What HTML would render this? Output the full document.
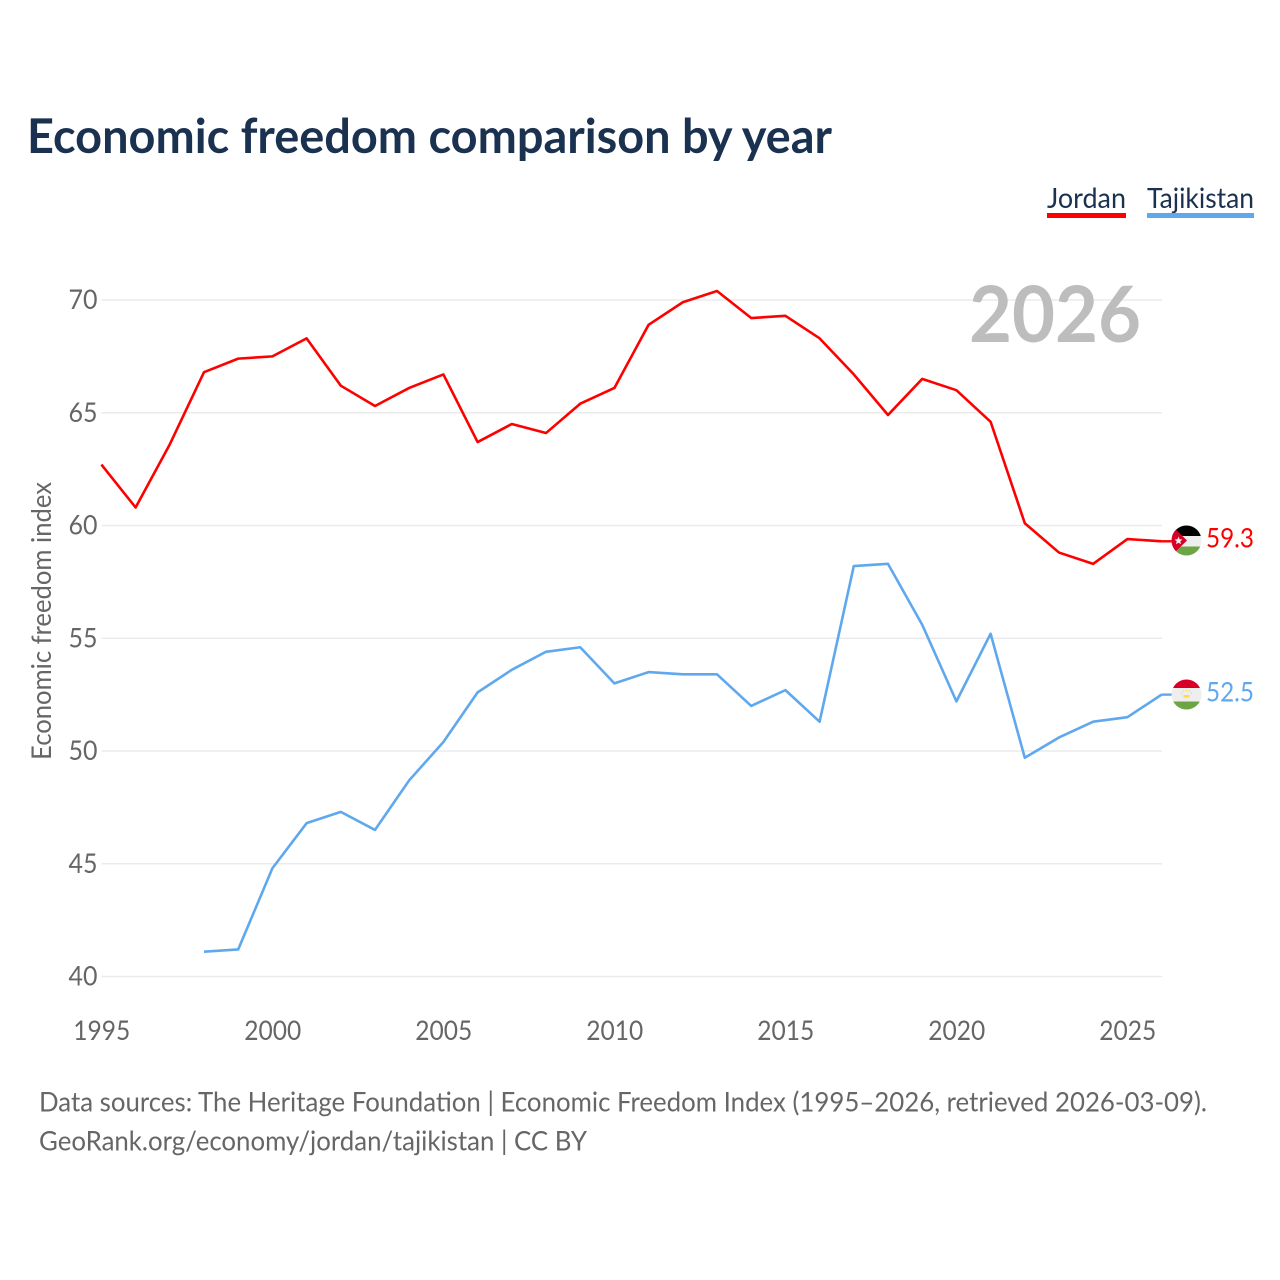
<!DOCTYPE html>
<html lang="en">
<head>
<meta charset="utf-8">
<title>Economic freedom comparison by year</title>
<style>
html,body{margin:0;padding:0;background:#fff;width:1280px;height:1280px;overflow:hidden}
svg{display:block}
text{font-family:"Lato","Carlito","Liberation Sans",sans-serif}
</style>
</head>
<body>
<svg id="chart" width="1280" height="1280" viewBox="0 0 1280 1280" xmlns="http://www.w3.org/2000/svg">
  <defs>
    <clipPath id="flag-jo"><circle cx="1186.5" cy="540.5" r="15"/></clipPath>
    <clipPath id="flag-tj"><circle cx="1186.5" cy="694.5" r="15"/></clipPath>
  </defs>
  <text x="27" y="153" font-size="48" font-weight="700" fill="#1a3150" textLength="805" lengthAdjust="spacingAndGlyphs">Economic freedom comparison by year</text>

  <text x="1047" y="208" font-size="28" fill="#1a3150" textLength="79" lengthAdjust="spacingAndGlyphs">Jordan</text>
  <rect x="1047" y="213" width="79" height="5" fill="#ff0000"/>
  <text x="1147" y="208" font-size="28" fill="#1a3150" textLength="107" lengthAdjust="spacingAndGlyphs">Tajikistan</text>
  <rect x="1147" y="213" width="107" height="5" fill="#5fa8ee"/>

  <g id="grid"></g>
  <g id="y-axis"></g>
  <g id="x-axis"></g>

  <text transform="translate(51,621) rotate(-90)" text-anchor="middle" font-size="27" fill="#666666" textLength="278" lengthAdjust="spacingAndGlyphs">Economic freedom index</text>
  <text x="1141" y="342" text-anchor="end" font-size="78" font-weight="700" fill="#bdbdbd" textLength="172" lengthAdjust="spacingAndGlyphs">2026</text>

  <g id="series"></g>

  <g clip-path="url(#flag-jo)">
    <rect x="1171" y="525" width="31" height="11" fill="#000000"/>
    <rect x="1171" y="536" width="31" height="10.5" fill="#eeeeee"/>
    <rect x="1171" y="546.5" width="31" height="10" fill="#6da544"/>
    <polygon points="1171,525 1187,540.5 1171,556" fill="#d80027"/>
    <polygon points="1178.5,536.5 1179.6,539.2 1182.5,539.5 1180.3,541.4 1181,544.3 1178.5,542.8 1176,544.3 1176.7,541.4 1174.5,539.5 1177.4,539.2" fill="#eeeeee"/>
  </g>
  <g clip-path="url(#flag-tj)">
    <rect x="1171" y="679" width="31" height="9" fill="#d80027"/>
    <rect x="1171" y="688" width="31" height="13.5" fill="#eeeeee"/>
    <rect x="1171" y="701.5" width="31" height="9" fill="#6da544"/>
    <rect x="1183.5" y="695" width="6" height="2.5" fill="#ffda44"/>
    <path d="M1181,694 A6,6 0 0 1 1192,694" fill="none" stroke="#ffda44" stroke-width="1.2" stroke-dasharray="1.5 1.5"/>
  </g>

  <text id="end-jordan" x="1254" y="547.5" text-anchor="end" font-size="27" fill="#ff0000" textLength="48" lengthAdjust="spacingAndGlyphs"></text>
  <text id="end-tajikistan" x="1254" y="701.5" text-anchor="end" font-size="27" fill="#5fa8ee" textLength="48" lengthAdjust="spacingAndGlyphs"></text>

  <text x="39" y="1111.5" font-size="27.5" fill="#666666" textLength="1168" lengthAdjust="spacingAndGlyphs">Data sources: The Heritage Foundation | Economic Freedom Index (1995–2026, retrieved 2026-03-09).</text>
  <text x="39" y="1150.5" font-size="27.5" fill="#666666" textLength="548" lengthAdjust="spacingAndGlyphs">GeoRank.org/economy/jordan/tajikistan | CC BY</text>
</svg>
<script>
const years = [1995,1996,1997,1998,1999,2000,2001,2002,2003,2004,2005,2006,2007,2008,2009,2010,2011,2012,2013,2014,2015,2016,2017,2018,2019,2020,2021,2022,2023,2024,2025,2026];
const jordanValues = [62.7,60.8,63.6,66.8,67.4,67.5,68.3,66.2,65.3,66.1,66.7,63.7,64.5,64.1,65.4,66.1,68.9,69.9,70.4,69.2,69.3,68.3,66.7,64.9,66.5,66.0,64.6,60.1,58.8,58.3,59.4,59.3];
const tajikistanValues = [null,null,null,41.1,41.2,44.8,46.8,47.3,46.5,48.7,50.4,52.6,53.6,54.4,54.6,53.0,53.5,53.4,53.4,52.0,52.7,51.3,58.2,58.3,55.6,52.2,55.2,49.7,50.6,51.3,51.5,52.5];
const yTicks = [40,45,50,55,60,65,70];
const xTicks = [1995,2000,2005,2010,2015,2020,2025];

const NS = 'http://www.w3.org/2000/svg';
function xScale(year){ return 101.4 + (year - 1995) * 34.2; }
function yScale(v){ return 976.5 - (v - 40) * 22.55; }
function make(tag, attrs, parent){
  const el = document.createElementNS(NS, tag);
  for (const k in attrs) el.setAttribute(k, attrs[k]);
  parent.appendChild(el);
  return el;
}

const grid = document.getElementById('grid');
const yAxis = document.getElementById('y-axis');
const xAxis = document.getElementById('x-axis');
const seriesGroup = document.getElementById('series');

yTicks.forEach(function(t){
  const line = make('line', {x1:101.5, x2:1162, y1:yScale(t), y2:yScale(t), stroke:'#ebebeb', 'stroke-width':1.5}, grid);
  
  
  const label = make('text', {x:97.5, y:yScale(t) + 9, 'text-anchor':'end', 'font-size':27.5, fill:'#666666', textLength:29, lengthAdjust:'spacingAndGlyphs'}, yAxis);
  
  
  label.textContent = t;
});

xTicks.forEach(function(t){
  const label = make('text', {x:xScale(t) + 0.4, y:1040, 'text-anchor':'middle', 'font-size':27.5, fill:'#666666', textLength:57, lengthAdjust:'spacingAndGlyphs'}, xAxis);
  
  
  label.textContent = t;
});

function drawSeries(values, color, name){
  const pts = [];
  values.forEach(function(v, i){
    if (v !== null) pts.push(xScale(years[i]).toFixed(2) + ',' + yScale(v).toFixed(2));
  });
  const last = values[values.length - 1];
  const connector = make('line', {x1:xScale(years[years.length - 1]), x2:1172, y1:yScale(last), y2:yScale(last), stroke:color, 'stroke-width':2.4}, seriesGroup);
  
  
  const line = make('polyline', {points:pts.join(' '), fill:'none', stroke:color, 'stroke-width':2.6, 'stroke-linejoin':'round'}, seriesGroup);
  
  
}
drawSeries(jordanValues, '#ff0000', 'jordan');
drawSeries(tajikistanValues, '#5fa8ee', 'tajikistan');

document.getElementById('end-jordan').textContent = jordanValues[jordanValues.length - 1].toFixed(1);
document.getElementById('end-tajikistan').textContent = tajikistanValues[tajikistanValues.length - 1].toFixed(1);
</script>
</body>
</html>
